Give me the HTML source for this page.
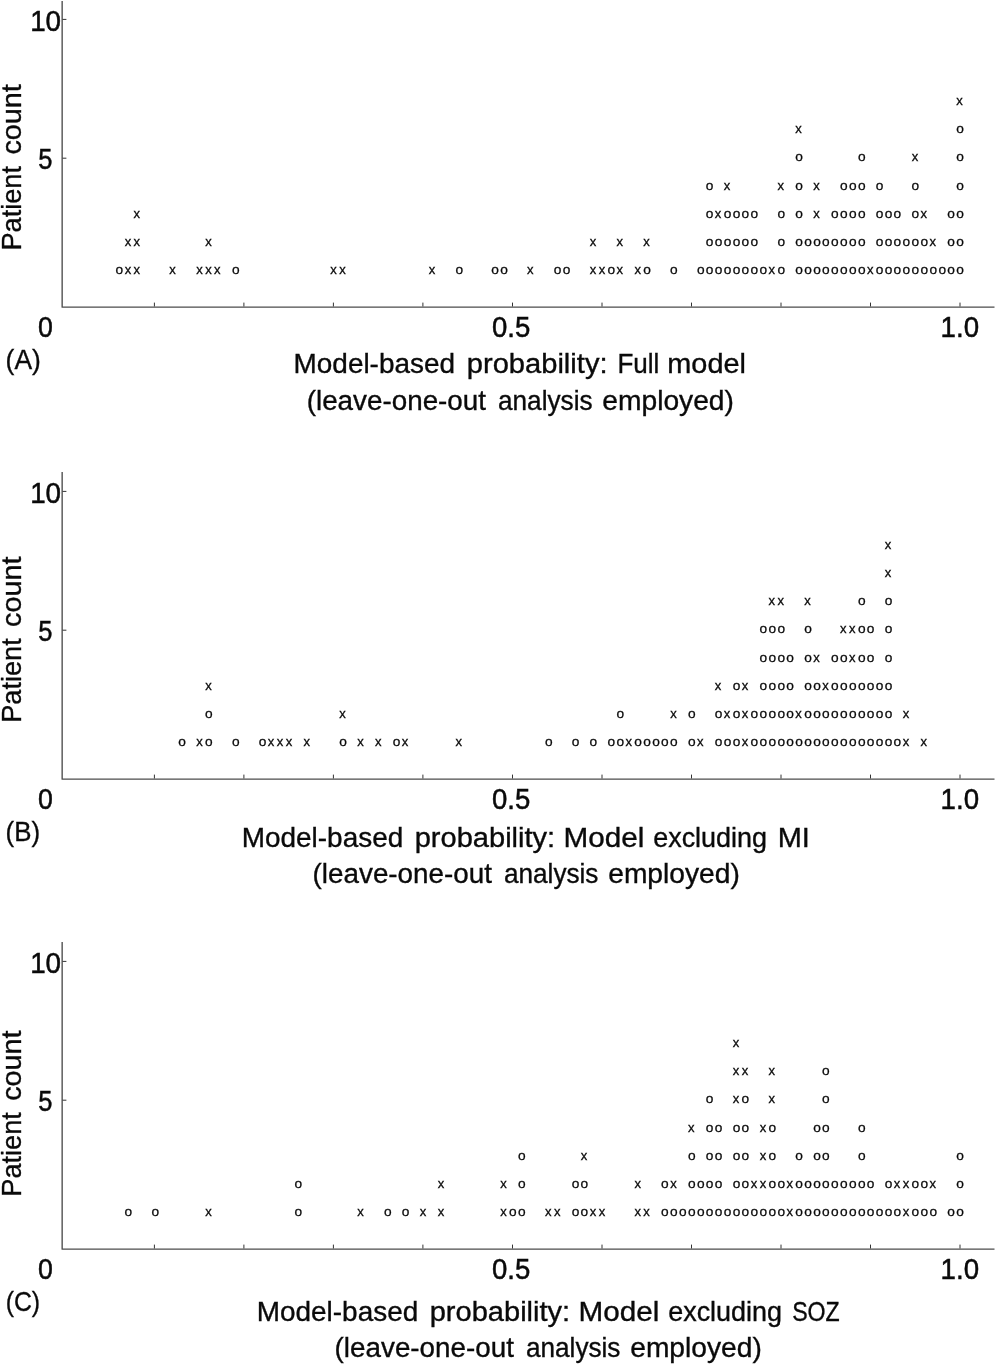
<!DOCTYPE html><html><head><meta charset="utf-8"><title>Figure</title><style>html,body{margin:0;padding:0;background:#fff}svg{display:block}text{font-family:"Liberation Sans",sans-serif;fill:#0a0a0a}.m,.n{font-size:13px;text-anchor:middle;stroke:#0a0a0a;stroke-width:.3px}.n{font-size:13.7px}.l,.d{stroke:#0a0a0a;stroke-width:.35px}.l{font-size:27.7px}.d{font-size:28.8px;stroke-width:.5px}</style></head><body>
<svg width="995" height="1365" viewBox="0 0 995 1365">
<rect width="995" height="1365" fill="#fff"/>
<g transform="translate(0,0.0)">
<path d="M62.15 1V307.15H994.5" fill="none" stroke="#4c4c4c" stroke-width="1.35" stroke-linejoin="round"/>
<path d="M154.4 306.5V302.6" stroke="#333" stroke-width="1"/>
<path d="M243.9 306.5V302.6" stroke="#333" stroke-width="1"/>
<path d="M333.4 306.5V302.6" stroke="#333" stroke-width="1"/>
<path d="M422.9 306.5V302.6" stroke="#333" stroke-width="1"/>
<path d="M512.5 306.5V302.6" stroke="#333" stroke-width="1"/>
<path d="M602.0 306.5V302.6" stroke="#333" stroke-width="1"/>
<path d="M691.5 306.5V302.6" stroke="#333" stroke-width="1"/>
<path d="M781.0 306.5V302.6" stroke="#333" stroke-width="1"/>
<path d="M870.5 306.5V302.6" stroke="#333" stroke-width="1"/>
<path d="M960.0 306.5V302.6" stroke="#333" stroke-width="1"/>
<path d="M62.5 19.4H66.4" stroke="#333" stroke-width="1"/>
<path d="M62.5 158.2H66.4" stroke="#333" stroke-width="1"/>
<text class="d" transform="translate(30.16,31.00) scale(0.9653,1)">10</text>
<text class="d" transform="translate(38.13,169.00) scale(0.8845,1)">5</text>
<text class="d" transform="translate(37.98,337.00) scale(0.9284,1)">0</text>
<text class="d" transform="translate(492.05,337.00) scale(0.9568,1)">0.5</text>
<text class="d" transform="translate(940.57,337.00) scale(0.9613,1)">1.0</text>
<text class="l" transform="translate(5.59,369.10) scale(0.9562,1)">(A)</text>
<text class="l" transform="translate(293.54,373.40) scale(1.0087,1)">Model-based</text>
<text class="l" transform="translate(466.78,373.40) scale(1.0510,1)">probability:</text>
<text class="l" transform="translate(617.39,373.40) scale(0.9401,1)">Full</text>
<text class="l" transform="translate(667.30,373.40) scale(1.0433,1)">model</text>
<text class="l" transform="translate(306.71,410.00) scale(1.0041,1)">(leave-one-out</text>
<text class="l" transform="translate(498.00,410.00) scale(0.9455,1)">analysis</text>
<text class="l" transform="translate(602.31,410.00) scale(1.0185,1)">employed)</text>
<text class="l" transform="translate(21.20,248.50) rotate(-90) translate(-2.00,0) scale(0.9804,1)">Patient</text>
<text class="l" transform="translate(21.20,248.50) rotate(-90) translate(93.88,0) scale(1.0393,1)">count</text>
<text class="n" x="119.4" y="274">o</text>
<text class="m" x="127.9" y="274">x</text>
<text class="m" x="136.8" y="274">x</text>
<text class="m" x="172.6" y="274">x</text>
<text class="m" x="199.4" y="274">x</text>
<text class="m" x="208.4" y="274">x</text>
<text class="m" x="217.3" y="274">x</text>
<text class="n" x="235.7" y="274">o</text>
<text class="m" x="333.6" y="274">x</text>
<text class="m" x="342.5" y="274">x</text>
<text class="m" x="432.0" y="274">x</text>
<text class="n" x="459.2" y="274">o</text>
<text class="n" x="495.0" y="274">o</text>
<text class="n" x="504.0" y="274">o</text>
<text class="m" x="530.3" y="274">x</text>
<text class="n" x="557.6" y="274">o</text>
<text class="n" x="566.6" y="274">o</text>
<text class="m" x="592.9" y="274">x</text>
<text class="m" x="601.9" y="274">x</text>
<text class="n" x="611.3" y="274">o</text>
<text class="m" x="619.8" y="274">x</text>
<text class="m" x="637.7" y="274">x</text>
<text class="n" x="647.0" y="274">o</text>
<text class="n" x="673.9" y="274">o</text>
<text class="n" x="700.7" y="274">o</text>
<text class="n" x="709.6" y="274">o</text>
<text class="n" x="718.6" y="274">o</text>
<text class="n" x="727.5" y="274">o</text>
<text class="n" x="736.5" y="274">o</text>
<text class="n" x="745.4" y="274">o</text>
<text class="n" x="754.4" y="274">o</text>
<text class="n" x="763.3" y="274">o</text>
<text class="m" x="771.8" y="274">x</text>
<text class="n" x="781.2" y="274">o</text>
<text class="n" x="799.1" y="274">o</text>
<text class="n" x="808.0" y="274">o</text>
<text class="n" x="817.0" y="274">o</text>
<text class="n" x="825.9" y="274">o</text>
<text class="n" x="834.8" y="274">o</text>
<text class="n" x="843.8" y="274">o</text>
<text class="n" x="852.7" y="274">o</text>
<text class="n" x="861.7" y="274">o</text>
<text class="m" x="870.2" y="274">x</text>
<text class="n" x="879.6" y="274">o</text>
<text class="n" x="888.5" y="274">o</text>
<text class="n" x="897.4" y="274">o</text>
<text class="n" x="906.4" y="274">o</text>
<text class="n" x="915.3" y="274">o</text>
<text class="n" x="924.3" y="274">o</text>
<text class="n" x="933.2" y="274">o</text>
<text class="n" x="942.2" y="274">o</text>
<text class="n" x="951.1" y="274">o</text>
<text class="n" x="960.0" y="274">o</text>
<text class="m" x="127.9" y="246">x</text>
<text class="m" x="136.8" y="246">x</text>
<text class="m" x="208.4" y="246">x</text>
<text class="m" x="592.9" y="246">x</text>
<text class="m" x="619.8" y="246">x</text>
<text class="m" x="646.6" y="246">x</text>
<text class="n" x="709.6" y="246">o</text>
<text class="n" x="718.6" y="246">o</text>
<text class="n" x="727.5" y="246">o</text>
<text class="n" x="736.5" y="246">o</text>
<text class="n" x="745.4" y="246">o</text>
<text class="n" x="754.4" y="246">o</text>
<text class="n" x="781.2" y="246">o</text>
<text class="n" x="799.1" y="246">o</text>
<text class="n" x="808.0" y="246">o</text>
<text class="n" x="817.0" y="246">o</text>
<text class="n" x="825.9" y="246">o</text>
<text class="n" x="834.8" y="246">o</text>
<text class="n" x="843.8" y="246">o</text>
<text class="n" x="852.7" y="246">o</text>
<text class="n" x="861.7" y="246">o</text>
<text class="n" x="879.6" y="246">o</text>
<text class="n" x="888.5" y="246">o</text>
<text class="n" x="897.4" y="246">o</text>
<text class="n" x="906.4" y="246">o</text>
<text class="n" x="915.3" y="246">o</text>
<text class="n" x="924.3" y="246">o</text>
<text class="m" x="932.8" y="246">x</text>
<text class="n" x="951.1" y="246">o</text>
<text class="n" x="960.0" y="246">o</text>
<text class="m" x="136.8" y="218">x</text>
<text class="n" x="709.6" y="218">o</text>
<text class="m" x="718.1" y="218">x</text>
<text class="n" x="727.5" y="218">o</text>
<text class="n" x="736.5" y="218">o</text>
<text class="n" x="745.4" y="218">o</text>
<text class="n" x="754.4" y="218">o</text>
<text class="n" x="781.2" y="218">o</text>
<text class="n" x="799.1" y="218">o</text>
<text class="m" x="816.5" y="218">x</text>
<text class="n" x="834.8" y="218">o</text>
<text class="n" x="843.8" y="218">o</text>
<text class="n" x="852.7" y="218">o</text>
<text class="n" x="861.7" y="218">o</text>
<text class="n" x="879.6" y="218">o</text>
<text class="n" x="888.5" y="218">o</text>
<text class="n" x="897.4" y="218">o</text>
<text class="n" x="915.3" y="218">o</text>
<text class="m" x="923.8" y="218">x</text>
<text class="n" x="951.1" y="218">o</text>
<text class="n" x="960.0" y="218">o</text>
<text class="n" x="709.6" y="190">o</text>
<text class="m" x="727.1" y="190">x</text>
<text class="m" x="780.7" y="190">x</text>
<text class="n" x="799.1" y="190">o</text>
<text class="m" x="816.5" y="190">x</text>
<text class="n" x="843.8" y="190">o</text>
<text class="n" x="852.7" y="190">o</text>
<text class="n" x="861.7" y="190">o</text>
<text class="n" x="879.6" y="190">o</text>
<text class="n" x="915.3" y="190">o</text>
<text class="n" x="960.0" y="190">o</text>
<text class="n" x="799.1" y="161">o</text>
<text class="n" x="861.7" y="161">o</text>
<text class="m" x="914.9" y="161">x</text>
<text class="n" x="960.0" y="161">o</text>
<text class="m" x="798.6" y="133">x</text>
<text class="n" x="960.0" y="133">o</text>
<text class="m" x="959.6" y="105">x</text>
</g>
<g transform="translate(0,472.0)">
<path d="M62.15 0V307.15H994.5" fill="none" stroke="#4c4c4c" stroke-width="1.35" stroke-linejoin="round"/>
<path d="M154.4 306.5V302.6" stroke="#333" stroke-width="1"/>
<path d="M243.9 306.5V302.6" stroke="#333" stroke-width="1"/>
<path d="M333.4 306.5V302.6" stroke="#333" stroke-width="1"/>
<path d="M422.9 306.5V302.6" stroke="#333" stroke-width="1"/>
<path d="M512.5 306.5V302.6" stroke="#333" stroke-width="1"/>
<path d="M602.0 306.5V302.6" stroke="#333" stroke-width="1"/>
<path d="M691.5 306.5V302.6" stroke="#333" stroke-width="1"/>
<path d="M781.0 306.5V302.6" stroke="#333" stroke-width="1"/>
<path d="M870.5 306.5V302.6" stroke="#333" stroke-width="1"/>
<path d="M960.0 306.5V302.6" stroke="#333" stroke-width="1"/>
<path d="M62.5 19.4H66.4" stroke="#333" stroke-width="1"/>
<path d="M62.5 158.2H66.4" stroke="#333" stroke-width="1"/>
<text class="d" transform="translate(30.16,31.00) scale(0.9653,1)">10</text>
<text class="d" transform="translate(38.13,169.00) scale(0.8845,1)">5</text>
<text class="d" transform="translate(37.98,337.00) scale(0.9284,1)">0</text>
<text class="d" transform="translate(492.05,337.00) scale(0.9568,1)">0.5</text>
<text class="d" transform="translate(940.57,337.00) scale(0.9613,1)">1.0</text>
<text class="l" transform="translate(5.62,369.10) scale(0.9353,1)">(B)</text>
<text class="l" transform="translate(241.74,374.60) scale(1.0087,1)">Model-based</text>
<text class="l" transform="translate(414.69,374.60) scale(1.0495,1)">probability:</text>
<text class="l" transform="translate(563.60,374.60) scale(1.0718,1)">Model</text>
<text class="l" transform="translate(653.16,374.60) scale(0.9734,1)">excluding</text>
<text class="l" transform="translate(777.66,374.60) scale(1.0465,1)">MI</text>
<text class="l" transform="translate(312.61,410.90) scale(1.0041,1)">(leave-one-out</text>
<text class="l" transform="translate(503.90,410.90) scale(0.9455,1)">analysis</text>
<text class="l" transform="translate(608.21,410.90) scale(1.0185,1)">employed)</text>
<text class="l" transform="translate(21.20,248.80) rotate(-90) translate(-2.00,0) scale(0.9804,1)">Patient</text>
<text class="l" transform="translate(21.20,248.80) rotate(-90) translate(93.88,0) scale(1.0393,1)">count</text>
<text class="n" x="182.0" y="274">o</text>
<text class="m" x="199.4" y="274">x</text>
<text class="n" x="208.8" y="274">o</text>
<text class="n" x="235.7" y="274">o</text>
<text class="n" x="262.5" y="274">o</text>
<text class="m" x="271.0" y="274">x</text>
<text class="m" x="279.9" y="274">x</text>
<text class="m" x="288.9" y="274">x</text>
<text class="m" x="306.8" y="274">x</text>
<text class="n" x="343.0" y="274">o</text>
<text class="m" x="360.4" y="274">x</text>
<text class="m" x="378.3" y="274">x</text>
<text class="n" x="396.6" y="274">o</text>
<text class="m" x="405.1" y="274">x</text>
<text class="m" x="458.8" y="274">x</text>
<text class="n" x="548.7" y="274">o</text>
<text class="n" x="575.5" y="274">o</text>
<text class="n" x="593.4" y="274">o</text>
<text class="n" x="611.3" y="274">o</text>
<text class="n" x="620.2" y="274">o</text>
<text class="m" x="628.7" y="274">x</text>
<text class="n" x="638.1" y="274">o</text>
<text class="n" x="647.0" y="274">o</text>
<text class="n" x="656.0" y="274">o</text>
<text class="n" x="664.9" y="274">o</text>
<text class="n" x="673.9" y="274">o</text>
<text class="n" x="691.8" y="274">o</text>
<text class="m" x="700.3" y="274">x</text>
<text class="n" x="718.6" y="274">o</text>
<text class="n" x="727.5" y="274">o</text>
<text class="n" x="736.5" y="274">o</text>
<text class="m" x="745.0" y="274">x</text>
<text class="n" x="754.4" y="274">o</text>
<text class="n" x="763.3" y="274">o</text>
<text class="n" x="772.2" y="274">o</text>
<text class="n" x="781.2" y="274">o</text>
<text class="n" x="790.1" y="274">o</text>
<text class="n" x="799.1" y="274">o</text>
<text class="n" x="808.0" y="274">o</text>
<text class="n" x="817.0" y="274">o</text>
<text class="n" x="825.9" y="274">o</text>
<text class="n" x="834.8" y="274">o</text>
<text class="n" x="843.8" y="274">o</text>
<text class="n" x="852.7" y="274">o</text>
<text class="n" x="861.7" y="274">o</text>
<text class="n" x="870.6" y="274">o</text>
<text class="n" x="879.6" y="274">o</text>
<text class="n" x="888.5" y="274">o</text>
<text class="n" x="897.4" y="274">o</text>
<text class="m" x="905.9" y="274">x</text>
<text class="m" x="923.8" y="274">x</text>
<text class="n" x="208.8" y="246">o</text>
<text class="m" x="342.5" y="246">x</text>
<text class="n" x="620.2" y="246">o</text>
<text class="m" x="673.4" y="246">x</text>
<text class="n" x="691.8" y="246">o</text>
<text class="n" x="718.6" y="246">o</text>
<text class="m" x="727.1" y="246">x</text>
<text class="n" x="736.5" y="246">o</text>
<text class="m" x="745.0" y="246">x</text>
<text class="n" x="754.4" y="246">o</text>
<text class="n" x="763.3" y="246">o</text>
<text class="n" x="772.2" y="246">o</text>
<text class="n" x="781.2" y="246">o</text>
<text class="n" x="790.1" y="246">o</text>
<text class="m" x="798.6" y="246">x</text>
<text class="n" x="808.0" y="246">o</text>
<text class="n" x="817.0" y="246">o</text>
<text class="n" x="825.9" y="246">o</text>
<text class="n" x="834.8" y="246">o</text>
<text class="n" x="843.8" y="246">o</text>
<text class="n" x="852.7" y="246">o</text>
<text class="n" x="861.7" y="246">o</text>
<text class="n" x="870.6" y="246">o</text>
<text class="n" x="879.6" y="246">o</text>
<text class="n" x="888.5" y="246">o</text>
<text class="m" x="905.9" y="246">x</text>
<text class="m" x="208.4" y="218">x</text>
<text class="m" x="718.1" y="218">x</text>
<text class="n" x="736.5" y="218">o</text>
<text class="m" x="745.0" y="218">x</text>
<text class="n" x="763.3" y="218">o</text>
<text class="n" x="772.2" y="218">o</text>
<text class="n" x="781.2" y="218">o</text>
<text class="n" x="790.1" y="218">o</text>
<text class="n" x="808.0" y="218">o</text>
<text class="n" x="817.0" y="218">o</text>
<text class="m" x="825.5" y="218">x</text>
<text class="n" x="834.8" y="218">o</text>
<text class="n" x="843.8" y="218">o</text>
<text class="n" x="852.7" y="218">o</text>
<text class="n" x="861.7" y="218">o</text>
<text class="n" x="870.6" y="218">o</text>
<text class="n" x="879.6" y="218">o</text>
<text class="n" x="888.5" y="218">o</text>
<text class="n" x="763.3" y="190">o</text>
<text class="n" x="772.2" y="190">o</text>
<text class="n" x="781.2" y="190">o</text>
<text class="n" x="790.1" y="190">o</text>
<text class="n" x="808.0" y="190">o</text>
<text class="m" x="816.5" y="190">x</text>
<text class="n" x="834.8" y="190">o</text>
<text class="n" x="843.8" y="190">o</text>
<text class="m" x="852.3" y="190">x</text>
<text class="n" x="861.7" y="190">o</text>
<text class="n" x="870.6" y="190">o</text>
<text class="n" x="888.5" y="190">o</text>
<text class="n" x="763.3" y="161">o</text>
<text class="n" x="772.2" y="161">o</text>
<text class="n" x="781.2" y="161">o</text>
<text class="n" x="808.0" y="161">o</text>
<text class="m" x="843.3" y="161">x</text>
<text class="m" x="852.3" y="161">x</text>
<text class="n" x="861.7" y="161">o</text>
<text class="n" x="870.6" y="161">o</text>
<text class="n" x="888.5" y="161">o</text>
<text class="m" x="771.8" y="133">x</text>
<text class="m" x="780.7" y="133">x</text>
<text class="m" x="807.6" y="133">x</text>
<text class="n" x="861.7" y="133">o</text>
<text class="n" x="888.5" y="133">o</text>
<text class="m" x="888.1" y="105">x</text>
<text class="m" x="888.1" y="77">x</text>
</g>
<g transform="translate(0,942.0)">
<path d="M62.15 0V307.15H994.5" fill="none" stroke="#4c4c4c" stroke-width="1.35" stroke-linejoin="round"/>
<path d="M154.4 306.5V302.6" stroke="#333" stroke-width="1"/>
<path d="M243.9 306.5V302.6" stroke="#333" stroke-width="1"/>
<path d="M333.4 306.5V302.6" stroke="#333" stroke-width="1"/>
<path d="M422.9 306.5V302.6" stroke="#333" stroke-width="1"/>
<path d="M512.5 306.5V302.6" stroke="#333" stroke-width="1"/>
<path d="M602.0 306.5V302.6" stroke="#333" stroke-width="1"/>
<path d="M691.5 306.5V302.6" stroke="#333" stroke-width="1"/>
<path d="M781.0 306.5V302.6" stroke="#333" stroke-width="1"/>
<path d="M870.5 306.5V302.6" stroke="#333" stroke-width="1"/>
<path d="M960.0 306.5V302.6" stroke="#333" stroke-width="1"/>
<path d="M62.5 19.4H66.4" stroke="#333" stroke-width="1"/>
<path d="M62.5 158.2H66.4" stroke="#333" stroke-width="1"/>
<text class="d" transform="translate(30.16,31.00) scale(0.9653,1)">10</text>
<text class="d" transform="translate(38.13,169.00) scale(0.8845,1)">5</text>
<text class="d" transform="translate(37.98,337.00) scale(0.9284,1)">0</text>
<text class="d" transform="translate(492.05,337.00) scale(0.9568,1)">0.5</text>
<text class="d" transform="translate(940.57,337.00) scale(0.9613,1)">1.0</text>
<text class="l" transform="translate(5.69,369.10) scale(0.8947,1)">(C)</text>
<text class="l" transform="translate(256.74,379.00) scale(1.0087,1)">Model-based</text>
<text class="l" transform="translate(429.69,379.00) scale(1.0495,1)">probability:</text>
<text class="l" transform="translate(578.60,379.00) scale(1.0718,1)">Model</text>
<text class="l" transform="translate(668.16,379.00) scale(0.9734,1)">excluding</text>
<text class="l" transform="translate(792.13,379.00) scale(0.8360,1)">SOZ</text>
<text class="l" transform="translate(334.61,415.40) scale(1.0041,1)">(leave-one-out</text>
<text class="l" transform="translate(525.90,415.40) scale(0.9455,1)">analysis</text>
<text class="l" transform="translate(630.21,415.40) scale(1.0185,1)">employed)</text>
<text class="l" transform="translate(21.20,252.70) rotate(-90) translate(-2.00,0) scale(0.9804,1)">Patient</text>
<text class="l" transform="translate(21.20,252.70) rotate(-90) translate(93.88,0) scale(1.0393,1)">count</text>
<text class="n" x="128.4" y="274">o</text>
<text class="n" x="155.2" y="274">o</text>
<text class="m" x="208.4" y="274">x</text>
<text class="n" x="298.3" y="274">o</text>
<text class="m" x="360.4" y="274">x</text>
<text class="n" x="387.7" y="274">o</text>
<text class="n" x="405.6" y="274">o</text>
<text class="m" x="423.0" y="274">x</text>
<text class="m" x="440.9" y="274">x</text>
<text class="m" x="503.5" y="274">x</text>
<text class="n" x="512.9" y="274">o</text>
<text class="n" x="521.8" y="274">o</text>
<text class="m" x="548.2" y="274">x</text>
<text class="m" x="557.2" y="274">x</text>
<text class="n" x="575.5" y="274">o</text>
<text class="n" x="584.4" y="274">o</text>
<text class="m" x="592.9" y="274">x</text>
<text class="m" x="601.9" y="274">x</text>
<text class="m" x="637.7" y="274">x</text>
<text class="m" x="646.6" y="274">x</text>
<text class="n" x="664.9" y="274">o</text>
<text class="n" x="673.9" y="274">o</text>
<text class="n" x="682.8" y="274">o</text>
<text class="n" x="691.8" y="274">o</text>
<text class="n" x="700.7" y="274">o</text>
<text class="n" x="709.6" y="274">o</text>
<text class="n" x="718.6" y="274">o</text>
<text class="n" x="727.5" y="274">o</text>
<text class="n" x="736.5" y="274">o</text>
<text class="n" x="745.4" y="274">o</text>
<text class="n" x="754.4" y="274">o</text>
<text class="n" x="763.3" y="274">o</text>
<text class="n" x="772.2" y="274">o</text>
<text class="n" x="781.2" y="274">o</text>
<text class="m" x="789.7" y="274">x</text>
<text class="n" x="799.1" y="274">o</text>
<text class="n" x="808.0" y="274">o</text>
<text class="n" x="817.0" y="274">o</text>
<text class="n" x="825.9" y="274">o</text>
<text class="n" x="834.8" y="274">o</text>
<text class="n" x="843.8" y="274">o</text>
<text class="n" x="852.7" y="274">o</text>
<text class="n" x="861.7" y="274">o</text>
<text class="n" x="870.6" y="274">o</text>
<text class="n" x="879.6" y="274">o</text>
<text class="n" x="888.5" y="274">o</text>
<text class="n" x="897.4" y="274">o</text>
<text class="m" x="905.9" y="274">x</text>
<text class="n" x="915.3" y="274">o</text>
<text class="n" x="924.3" y="274">o</text>
<text class="n" x="933.2" y="274">o</text>
<text class="n" x="951.1" y="274">o</text>
<text class="n" x="960.0" y="274">o</text>
<text class="n" x="298.3" y="246">o</text>
<text class="m" x="440.9" y="246">x</text>
<text class="m" x="503.5" y="246">x</text>
<text class="n" x="521.8" y="246">o</text>
<text class="n" x="575.5" y="246">o</text>
<text class="n" x="584.4" y="246">o</text>
<text class="m" x="637.7" y="246">x</text>
<text class="n" x="664.9" y="246">o</text>
<text class="m" x="673.4" y="246">x</text>
<text class="n" x="691.8" y="246">o</text>
<text class="n" x="700.7" y="246">o</text>
<text class="n" x="709.6" y="246">o</text>
<text class="n" x="718.6" y="246">o</text>
<text class="n" x="736.5" y="246">o</text>
<text class="n" x="745.4" y="246">o</text>
<text class="m" x="753.9" y="246">x</text>
<text class="m" x="762.9" y="246">x</text>
<text class="n" x="772.2" y="246">o</text>
<text class="n" x="781.2" y="246">o</text>
<text class="m" x="789.7" y="246">x</text>
<text class="n" x="799.1" y="246">o</text>
<text class="n" x="808.0" y="246">o</text>
<text class="n" x="817.0" y="246">o</text>
<text class="n" x="825.9" y="246">o</text>
<text class="n" x="834.8" y="246">o</text>
<text class="n" x="843.8" y="246">o</text>
<text class="n" x="852.7" y="246">o</text>
<text class="n" x="861.7" y="246">o</text>
<text class="n" x="870.6" y="246">o</text>
<text class="n" x="888.5" y="246">o</text>
<text class="m" x="897.0" y="246">x</text>
<text class="m" x="905.9" y="246">x</text>
<text class="n" x="915.3" y="246">o</text>
<text class="n" x="924.3" y="246">o</text>
<text class="m" x="932.8" y="246">x</text>
<text class="n" x="960.0" y="246">o</text>
<text class="n" x="521.8" y="218">o</text>
<text class="m" x="584.0" y="218">x</text>
<text class="n" x="691.8" y="218">o</text>
<text class="n" x="709.6" y="218">o</text>
<text class="n" x="718.6" y="218">o</text>
<text class="n" x="736.5" y="218">o</text>
<text class="n" x="745.4" y="218">o</text>
<text class="m" x="762.9" y="218">x</text>
<text class="n" x="772.2" y="218">o</text>
<text class="n" x="799.1" y="218">o</text>
<text class="n" x="817.0" y="218">o</text>
<text class="n" x="825.9" y="218">o</text>
<text class="n" x="861.7" y="218">o</text>
<text class="n" x="960.0" y="218">o</text>
<text class="m" x="691.3" y="190">x</text>
<text class="n" x="709.6" y="190">o</text>
<text class="n" x="718.6" y="190">o</text>
<text class="n" x="736.5" y="190">o</text>
<text class="n" x="745.4" y="190">o</text>
<text class="m" x="762.9" y="190">x</text>
<text class="n" x="772.2" y="190">o</text>
<text class="n" x="817.0" y="190">o</text>
<text class="n" x="825.9" y="190">o</text>
<text class="n" x="861.7" y="190">o</text>
<text class="n" x="709.6" y="161">o</text>
<text class="m" x="736.0" y="161">x</text>
<text class="n" x="745.4" y="161">o</text>
<text class="m" x="771.8" y="161">x</text>
<text class="n" x="825.9" y="161">o</text>
<text class="m" x="736.0" y="133">x</text>
<text class="m" x="745.0" y="133">x</text>
<text class="m" x="771.8" y="133">x</text>
<text class="n" x="825.9" y="133">o</text>
<text class="m" x="736.0" y="105">x</text>
</g>
</svg></body></html>
